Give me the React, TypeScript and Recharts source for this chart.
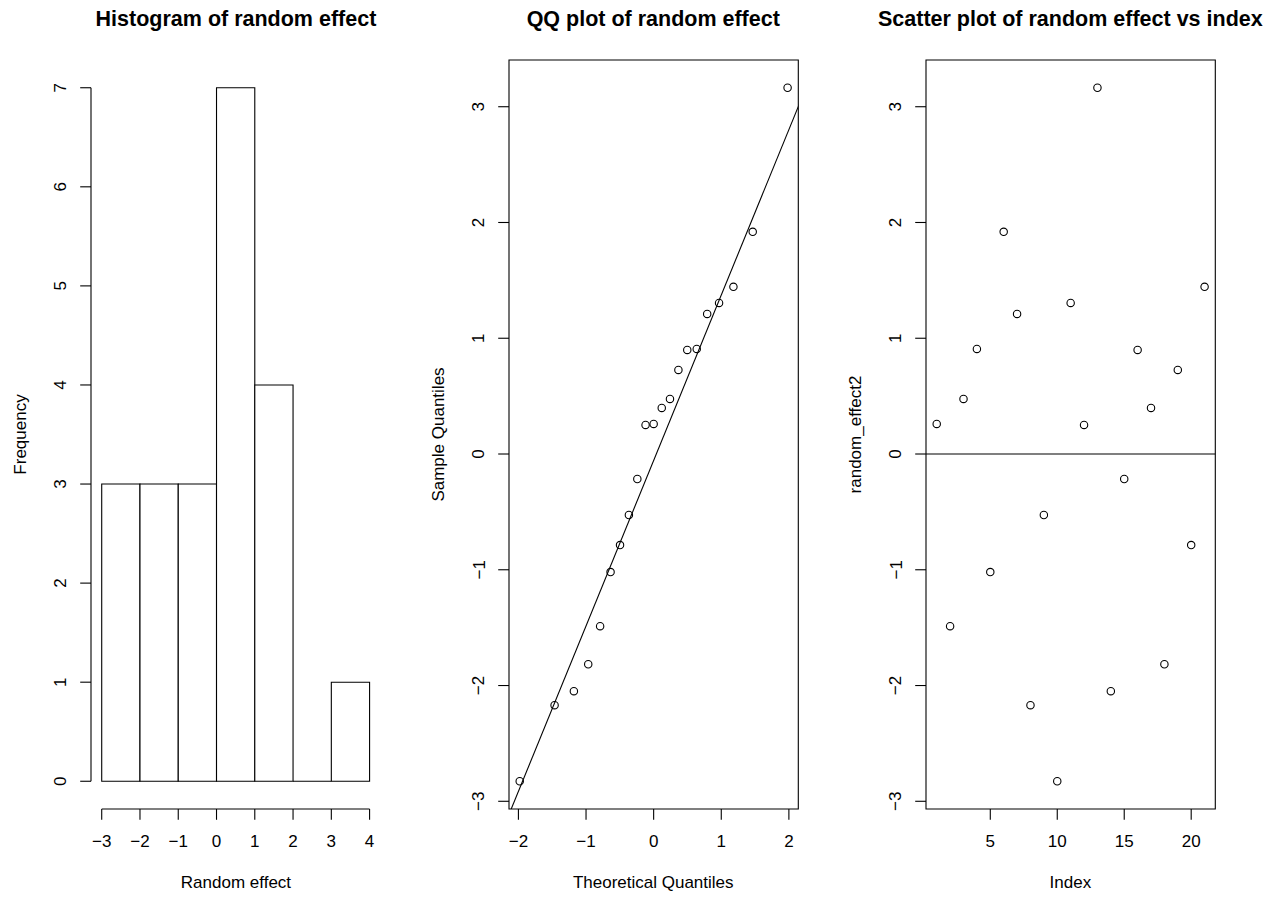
import React from 'react';
import { ComposedChart, XAxis, YAxis, Scatter, ReferenceArea, ReferenceLine } from 'recharts';

const FONT = '"Liberation Sans", Arial, Helvetica, sans-serif';

// ---- data ----
const binStarts = [-3, -2, -1, 0, 1, 2, 3];
const binEnds = [-2, -1, 0, 1, 2, 3, 4];
const binCounts = [3, 3, 3, 7, 4, 0, 1];
const histXTicks = [-3, -2, -1, 0, 1, 2, 3, 4];
const histYTicks = [0, 1, 2, 3, 4, 5, 6, 7];

const indices = [1, 2, 3, 4, 5, 6, 7, 8, 9, 10, 11, 12, 13, 14, 15, 16, 17, 18, 19, 20, 21];
const randomEffect2 = [
  0.26, -1.487, 0.476, 0.908, -1.02, 1.919, 1.21, -2.17, -0.527, -2.827, 1.305,
  0.251, 3.164, -2.049, -0.216, 0.899, 0.398, -1.816, 0.726, -0.787, 1.444,
];
const theoreticalQuantiles = [
  -1.9808, -1.4652, -1.1798, -0.9674, -0.7916, -0.6372, -0.4972, -0.3661, -0.2414, -0.1197, 0,
  0.1197, 0.2414, 0.3661, 0.4972, 0.6372, 0.7916, 0.9674, 1.1798, 1.4652, 1.9808,
];
const qqXTicks = [-2, -1, 0, 1, 2];
const valueTicks = [-3, -2, -1, 0, 1, 2, 3];
const indexTicks = [5, 10, 15, 20];
const qnorm75 = 0.6745;

const titles = ['Histogram of random effect', 'QQ plot of random effect', 'Scatter plot of random effect vs index'];
const xLabels = ['Random effect', 'Theoretical Quantiles', 'Index'];
const yLabels = ['Frequency', 'Sample Quantiles', 'random_effect2'];

// ---- derived ----
const ext = (lo: number, hi: number): [number, number] => {
  const r = hi - lo;
  return [lo - 0.04 * r, hi + 0.04 * r];
};
const histXDomain = ext(binStarts[0], binEnds[binEnds.length - 1]);
const histYDomain = ext(0, Math.max(...binCounts));
const sorted = [...randomEffect2].sort((a, b) => a - b);
const valDomain = ext(sorted[0], sorted[sorted.length - 1]);
const qqXDomain = ext(theoreticalQuantiles[0], theoreticalQuantiles[theoreticalQuantiles.length - 1]);
const idxDomain = ext(indices[0], indices[indices.length - 1]);
const q1 = sorted[5];
const q3 = sorted[15];
const qqSlope = (q3 - q1) / (2 * qnorm75);
const qqIntercept = q1 + qqSlope * qnorm75;

const qqData = sorted.map((v, i) => ({ x: theoreticalQuantiles[i], y: v }));
const scatterData = randomEffect2.map((v, i) => ({ x: indices[i], y: v }));
const histData = binStarts.map((s, i) => ({ x: s, y: binCounts[i] }));

// ---- layout ----
const plotLefts = [91.3, 508.6, 925.7];
const plotWidth = 289.3;
const plotTop = 60;
const plotBottom = 809;
const chartH = 897;
const yAxisW = 91;
const chartW = 420;
const tickLen = 10.8;

const fmt = (v: number) => String(v).replace('-', '\u2212');

const XTick = (props: any) => {
  const { x, y, payload } = props;
  return (
    <text x={x} y={y} dy={6} textAnchor="middle" fontFamily={FONT} fontSize={17} fill="#000">
      {fmt(payload.value)}
    </text>
  );
};
const YTick = (props: any) => {
  const { x, y, payload } = props;
  return (
    <text x={x} y={y} dy={6} textAnchor="middle" transform={`rotate(-90, ${x}, ${y})`} fontFamily={FONT} fontSize={17} fill="#000">
      {fmt(payload.value)}
    </text>
  );
};

const Circle = (props: any) => {
  const { cx, cy } = props;
  return <circle cx={cx} cy={cy} r={3.7} fill="none" stroke="#000" strokeWidth={1.1} />;
};

const margin = { top: plotTop, right: chartW - yAxisW - plotWidth, bottom: 0, left: 0 };

const axisCommon = {
  axisLine: false,
  tickSize: tickLen,
  tickLine: { stroke: '#000', strokeWidth: 1.1 },
  allowDataOverflow: true,
  interval: 0 as const,
  type: 'number' as const,
};

function HistPanel() {
  return (
    <ComposedChart width={chartW} height={chartH} margin={margin} data={histData}>
      <XAxis {...axisCommon} dataKey="x" domain={histXDomain} ticks={histXTicks} height={chartH - plotBottom} tickMargin={21.5} tick={<XTick />} />
      <YAxis {...axisCommon} dataKey="y" domain={histYDomain} ticks={histYTicks} width={yAxisW} tickMargin={19.7} tick={<YTick />} />
      {binStarts.map((s, i) =>
        binCounts[i] > 0 ? (
          <ReferenceArea key={i} x1={s} x2={binEnds[i]} y1={0} y2={binCounts[i]} fill="#fff" fillOpacity={1} stroke="#000" strokeWidth={1.1} ifOverflow="visible" />
        ) : (
          <ReferenceLine key={i} segment={[{ x: s, y: 0 }, { x: binEnds[i], y: 0 }]} stroke="#000" strokeWidth={1.1} ifOverflow="visible" />
        )
      )}
      <ReferenceLine segment={[{ x: histXTicks[0], y: histYDomain[0] }, { x: histXTicks[histXTicks.length - 1], y: histYDomain[0] }]} stroke="#000" strokeWidth={1.1} ifOverflow="visible" />
      <ReferenceLine segment={[{ x: histXDomain[0], y: histYTicks[0] }, { x: histXDomain[0], y: histYTicks[histYTicks.length - 1] }]} stroke="#000" strokeWidth={1.1} ifOverflow="visible" />
    </ComposedChart>
  );
}

function QQPanel() {
  return (
    <ComposedChart width={chartW} height={chartH} margin={margin}>
      <XAxis {...axisCommon} dataKey="x" domain={qqXDomain} ticks={qqXTicks} height={chartH - plotBottom} tickMargin={21.5} tick={<XTick />} />
      <YAxis {...axisCommon} dataKey="y" domain={valDomain} ticks={valueTicks} width={yAxisW} tickMargin={19.7} tick={<YTick />} />
      <ReferenceArea x1={qqXDomain[0]} x2={qqXDomain[1]} y1={valDomain[0]} y2={valDomain[1]} fill="none" stroke="#000" strokeWidth={1.1} ifOverflow="visible" />
      <ReferenceLine
        segment={[
          { x: qqXDomain[0] - 0.1, y: qqIntercept + qqSlope * (qqXDomain[0] - 0.1) },
          { x: qqXDomain[1] + 0.1, y: qqIntercept + qqSlope * (qqXDomain[1] + 0.1) },
        ]}
        stroke="#000"
        strokeWidth={1.1}
        ifOverflow="hidden"
      />
      <Scatter data={qqData} dataKey="y" shape={<Circle />} isAnimationActive={false} />
    </ComposedChart>
  );
}

function ScatterPanel() {
  return (
    <ComposedChart width={chartW} height={chartH} margin={margin}>
      <XAxis {...axisCommon} dataKey="x" domain={idxDomain} ticks={indexTicks} height={chartH - plotBottom} tickMargin={21.5} tick={<XTick />} />
      <YAxis {...axisCommon} dataKey="y" domain={valDomain} ticks={valueTicks} width={yAxisW} tickMargin={19.7} tick={<YTick />} />
      <ReferenceArea x1={idxDomain[0]} x2={idxDomain[1]} y1={valDomain[0]} y2={valDomain[1]} fill="none" stroke="#000" strokeWidth={1.1} ifOverflow="visible" />
      <ReferenceLine y={0} stroke="#000" strokeWidth={1.1} />
      <Scatter data={scatterData} dataKey="y" shape={<Circle />} isAnimationActive={false} />
    </ComposedChart>
  );
}

export default function App() {
  const panels = [<HistPanel />, <QQPanel />, <ScatterPanel />];
  const midY = (plotTop + plotBottom) / 2;
  return (
    <div style={{ position: 'absolute', left: 0, top: 0, width: 1273, height: 897, overflow: 'hidden', background: '#fff' }}>
      {panels.map((p, i) => (
        <div key={i} style={{ position: 'absolute', left: plotLefts[i] - yAxisW, top: 0, width: chartW, height: chartH }}>
          {p}
        </div>
      ))}
      <svg width={1273} height={897} style={{ position: 'absolute', left: 0, top: 0, pointerEvents: 'none' }}>
        {titles.map((t, i) => (
          <text key={'t' + i} x={plotLefts[i] + plotWidth / 2} y={26} textAnchor="middle" fontFamily={FONT} fontWeight="bold" fontSize={21.5} fill="#000">
            {t}
          </text>
        ))}
        {xLabels.map((t, i) => (
          <text key={'x' + i} x={plotLefts[i] + plotWidth / 2} y={888} textAnchor="middle" fontFamily={FONT} fontSize={17} fill="#000">
            {t}
          </text>
        ))}
        {yLabels.map((t, i) => {
          const x = plotLefts[i] - 65;
          return (
            <text key={'y' + i} x={x} y={midY} textAnchor="middle" transform={`rotate(-90, ${x}, ${midY})`} fontFamily={FONT} fontSize={17} fill="#000">
              {t}
            </text>
          );
        })}
      </svg>
    </div>
  );
}
